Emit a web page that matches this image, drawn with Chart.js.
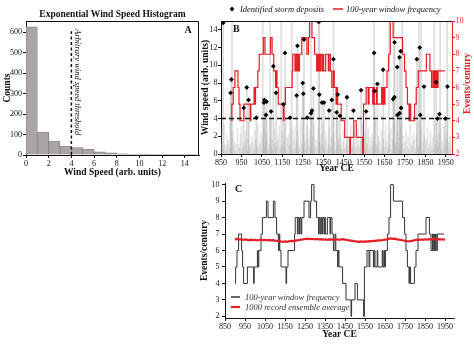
<!DOCTYPE html>
<html>
<head>
<meta charset="utf-8">
<script src="https://cdn.jsdelivr.net/npm/chart.js@4.4.0/dist/chart.umd.min.js"></script>
<style>
  html, body { margin: 0; padding: 0; background: #fff; }
  body { width: 474px; height: 346px; position: relative; overflow: hidden; }
  .panel { position: absolute; }
</style>
</head>
<body>
<div class="panel" style="left:0;top:0;width:205px;height:182px"><canvas id="chartA"></canvas></div>
<div class="panel" style="left:200px;top:0;width:274px;height:178px"><canvas id="chartB"></canvas></div>
<div class="panel" style="left:195px;top:175px;width:279px;height:171px"><canvas id="chartC"></canvas></div>
<script>
/* ==================
    DATOS
================== */

// A: histograma de velocidades
const speedBins = [0, 1, 2, 3, 4, 5, 6, 7, 8, 9, 10, 11, 12, 13, 14];
const speedCounts = [626, 112, 68, 44, 36, 28, 15, 10, 6, 5, 4, 3, 2, 2, 1];
const speedTicks = [0, 2, 4, 6, 8, 10, 12, 14];
const countTicks = [0, 100, 200, 300, 400, 500, 600];
const threshold = 4;

// B y C: ejes
const yearTicks = [850, 950, 1050, 1150, 1250, 1350, 1450, 1550, 1650, 1750, 1850, 1950];
const windTicks = [0, 2, 4, 6, 8, 10, 12, 14];
const eventTicks = [2, 3, 4, 5, 6, 7, 8, 9, 10];

// depositos de tormenta identificados
const stormYears = [861, 897, 901, 961, 976, 985, 1023, 1060, 1062, 1070,
  1073, 1095, 1106, 1119, 1155, 1163, 1188, 1220, 1224, 1250,
  1253, 1256, 1272, 1290, 1295, 1302, 1328, 1331, 1344, 1354,
  1379, 1392, 1400, 1416, 1421, 1432, 1466, 1498, 1535, 1560,
  1599, 1602, 1615, 1643, 1692, 1698, 1699, 1712, 1713, 1723,
  1724, 1729, 1731, 1808, 1822, 1825, 1843, 1903, 1908, 1919,
  1947, 1958];
const stormSpeeds = [14.8, 6.9, 8.4, 5.2, 7.5, 6.1, 4.1, 5.8, 6.1, 4.4,
  5.9, 4.8, 9.9, 6.9, 5.6, 11.4, 4.1, 6.6, 12.2, 8.0,
  6.8, 12.9, 4.1, 4.6, 4.9, 7.4, 14.9, 6.7, 5.8, 5.8,
  4.9, 6.1, 10.7, 4.7, 6.7, 4.3, 6.4, 4.9, 7.2, 4.8,
  11.4, 7.1, 7.9, 9.5, 6.2, 6.4, 12.6, 9.8, 4.4, 10.9,
  4.6, 11.6, 5.2, 10.7, 12.0, 4.4, 7.6, 8.1, 4.0, 4.5,
  4.0, 7.6];

// velocidad anual de fondo (una barra cada 5 anos desde 850)
const bgStartYear = 850;
const bgStep = 5;
const bgSpeeds = [
  1.2, 2.8, 0.6, 3.4, 1.0, 0.4, 2.1, 1.5, 0.8, 3.9, 0.5, 1.8, 2.6, 0.9, 1.3, 0.3, 2.9, 1.1, 0.7, 2.2,
  3.1, 0.6, 1.4, 0.9, 2.5, 1.7, 0.4, 3.6, 1.0, 0.8, 2.0, 1.3, 0.5, 2.7, 1.6, 0.9, 3.3, 0.7, 1.2, 2.4,
  0.6, 1.9, 3.0, 0.8, 1.4, 2.3, 0.5, 1.1, 3.8, 0.9, 1.6, 0.4, 2.8, 1.2, 0.7, 2.1, 1.5, 3.2, 0.6, 1.0,
  2.6, 0.8, 1.3, 3.5, 0.5, 1.8, 2.2, 0.9, 1.1, 2.9, 0.4, 1.7, 3.0, 0.7, 1.4, 2.5, 1.0, 0.6, 3.7, 1.2,
  0.9, 2.3, 1.5, 0.5, 3.1, 1.8, 0.7, 2.7, 1.2, 0.4, 2.0, 3.4, 0.8, 1.6, 0.6, 2.8, 1.3, 0.9, 2.2, 1.0,
  3.3, 0.7, 1.5, 2.4, 0.5, 1.1, 3.0, 0.8, 1.9, 0.6, 2.6, 1.4, 0.4, 3.6, 1.0, 1.7, 0.9, 2.1, 0.5, 1.3,
  2.7, 0.6, 1.2, 0.9, 2.0, 0.4, 1.5, 3.2, 0.7, 1.0, 2.4, 0.5, 1.8, 0.8, 2.9, 1.1, 0.6, 1.4, 3.5, 0.9,
  1.6, 2.5, 0.7, 1.2, 3.0, 0.5, 1.9, 0.9, 2.3, 1.4, 0.6, 3.8, 1.1, 0.8, 2.0, 1.5, 0.4, 2.8, 1.0, 1.7,
  0.8, 3.2, 1.3, 0.6, 2.2, 1.0, 2.9, 0.5, 1.6, 3.4, 0.9, 1.2, 2.5, 0.7, 1.8, 0.4, 3.1, 1.1, 2.0, 0.6,
  1.4, 2.7, 0.8, 1.9, 0.5, 3.3, 1.2, 0.9, 2.4, 1.6, 0.6, 2.1, 3.6, 1.0, 0.7, 1.5, 2.8, 0.4, 1.3, 2.2,
  0.9, 1.7, 3.0, 0.6, 1.2, 2.5, 0.8, 1.9, 0.5, 3.4, 1.1, 1.6, 0.7, 2.3, 1.0, 2.9, 0.6, 1.4, 3.1, 0.8,
  1.8, 2.4, 0.7, 1.3, 2.0, 1.0
];
// anos con viento fuera de escala (lineas hasta arriba)
const offScaleYears = [904, 1054, 1090, 1145, 1196, 1290, 1331, 1400, 1599, 1672, 1697, 1736, 1818, 1829, 1893, 1922, 1956];
const offScaleSpeed = 15;

// frecuencia en ventana de 100 anos (valor desde ese ano hasta el siguiente)
const freqYears = [900, 903, 910, 918, 933, 938, 943, 962, 993, 996,
  1012, 1015, 1019, 1030, 1037, 1057, 1065, 1092, 1100, 1108,
  1117, 1121, 1124, 1130, 1155, 1158, 1165, 1198, 1201, 1212,
  1216, 1222, 1225, 1231, 1234, 1245, 1270, 1278, 1283, 1295,
  1308, 1318, 1321, 1326, 1330, 1334, 1338, 1345, 1348, 1352,
  1362, 1375, 1378, 1385, 1392, 1400, 1404, 1413, 1416, 1420,
  1438, 1455, 1480, 1483, 1500, 1512, 1543, 1547, 1560, 1570,
  1574, 1592, 1596, 1600, 1611, 1614, 1636, 1640, 1645, 1648,
  1652, 1662, 1670, 1678, 1692, 1738, 1748, 1755, 1762, 1770,
  1773, 1778, 1797, 1805, 1815, 1855, 1872, 1880, 1887, 1890,
  1894, 1897, 1903, 1906, 1912, 1945];
const freqValues = [4, 5, 6, 7, 6, 5, 4, 5, 4, 5,
  6, 5, 6, 7, 8, 9, 8, 9, 8, 7,
  6, 7, 6, 5, 4, 5, 6, 7, 8, 7,
  8, 7, 8, 7, 8, 9, 8, 9, 10, 9,
  8, 7, 8, 7, 8, 7, 8, 7, 8, 7,
  8, 7, 8, 7, 6, 7, 6, 5, 6, 5,
  4, 3, 2, 3, 4, 3, 2, 5, 6, 5,
  6, 5, 6, 5, 6, 5, 6, 5, 6, 5,
  6, 7, 8, 10, 9, 8, 7, 6, 5, 4,
  5, 4, 5, 6, 7, 8, 7, 6, 7, 6,
  7, 6, 7, 6, 7, 7];

// promedio del conjunto de 1000 registros (cada 10 anos desde 900)
const ensStartYear = 900;
const ensStep = 10;
const ensValues = [
  6.68, 6.70, 6.66, 6.69, 6.64, 6.67, 6.65, 6.62, 6.66, 6.63,
  6.65, 6.62, 6.64, 6.66, 6.63, 6.65, 6.62, 6.64, 6.61, 6.63,
  6.60, 6.58, 6.60, 6.55, 6.52, 6.55, 6.53, 6.56, 6.58, 6.57,
  6.60, 6.62, 6.64, 6.66, 6.68, 6.70, 6.72, 6.69, 6.71, 6.70,
  6.68, 6.70, 6.67, 6.69, 6.66, 6.68, 6.65, 6.67, 6.66, 6.68,
  6.66, 6.68, 6.65, 6.67, 6.69, 6.66, 6.64, 6.62, 6.60, 6.58,
  6.56, 6.54, 6.52, 6.55, 6.53, 6.55, 6.54, 6.57, 6.56, 6.58,
  6.58, 6.60, 6.62, 6.61, 6.64, 6.66, 6.68, 6.72, 6.74, 6.71,
  6.72, 6.68, 6.66, 6.64, 6.62, 6.58, 6.56, 6.55, 6.58, 6.60,
  6.63, 6.66, 6.64, 6.67, 6.65, 6.68, 6.66, 6.69, 6.67, 6.70,
  6.68, 6.66, 6.69, 6.67, 6.68, 6.66
];

/* ==================
    ESTILO GENERAL
================== */

const SERIF = "'Liberation Serif', 'Times New Roman', serif";
const RED = '#e41e26';
Chart.defaults.font.family = SERIF;
Chart.defaults.font.size = 8;
Chart.defaults.color = '#111';
Chart.defaults.animation = false;

const fixTicks = list => scale => { scale.ticks = list.map(v => ({ value: v })); };
const plainLabel = v => String(v);
const axisTitle = (text, pad, color) => ({
    display: true, text: text, color: color || '#111',
    font: { size: 9.5, weight: 'bold' }, padding: pad
});

/* ==================
    PANEL A
================== */

new Chart(document.getElementById('chartA'), {
    type: 'bar',
    data: {
        datasets: [{
            type: 'line',
            data: [{ x: threshold, y: 0 }, { x: threshold, y: 605 }],
            borderColor: '#111',
            borderWidth: 1.5,
            borderDash: [3, 2.5],
            pointRadius: 0,
            order: 0
        }, {
            data: speedBins.map((b, i) => ({ x: b + 0.5, y: speedCounts[i] })),
            backgroundColor: '#aaa5a4',
            borderColor: '#86817f',
            borderWidth: 0.8,
            barPercentage: 1,
            categoryPercentage: 1,
            order: 1
        }]
    },
    options: {
        responsive: true,
        maintainAspectRatio: false,
        layout: { padding: { top: 21, right: 6, left: 0, bottom: 0 } },
        plugins: { legend: { display: false }, tooltip: { enabled: false } },
        scales: {
            x: {
                type: 'linear', min: 0, max: 15.25, offset: false,
                afterBuildTicks: fixTicks(speedTicks),
                afterFit: s => { s.height = 27; },
                grid: { drawOnChartArea: false, offset: false, tickLength: 3, color: '#111' },
                border: { color: '#111' },
                ticks: { padding: 1, maxRotation: 0, autoSkip: false, callback: plainLabel },
                title: axisTitle('Wind Speed (arb. units)', { top: 0, bottom: 3.5 })
            },
            y: {
                min: 0, max: 655,
                afterBuildTicks: fixTicks(countTicks),
                afterFit: s => { s.width = 26; },
                grid: { drawOnChartArea: false, tickLength: 3, color: '#111' },
                border: { color: '#111' },
                ticks: { padding: 1, callback: plainLabel },
                title: axisTitle('Counts', { top: 2.3, bottom: 0 })
            }
        }
    },
    plugins: [{
        id: 'decorA',
        afterDraw(chart) {
            const { ctx, chartArea: a, scales } = chart;
            ctx.save();
            ctx.strokeStyle = '#111';
            ctx.lineWidth = 1;
            ctx.beginPath();
            ctx.moveTo(a.left, a.top + 0.5);
            ctx.lineTo(a.right - 0.5, a.top + 0.5);
            ctx.lineTo(a.right - 0.5, a.bottom);
            ctx.stroke();
            ctx.fillStyle = '#111';
            ctx.textBaseline = 'middle';
            ctx.textAlign = 'center';
            ctx.font = 'bold 9.5px ' + SERIF;
            ctx.fillText('Exponential Wind Speed Histogram', (a.left + a.right) / 2, 14.5);
            ctx.font = 'bold 10px ' + SERIF;
            ctx.fillText('A', a.right - 11, a.top + 9);
            // texto del umbral, girado
            ctx.font = 'italic 8.5px ' + SERIF;
            ctx.translate(scales.x.getPixelForValue(threshold) + 5.5, a.top + 8);
            ctx.rotate(Math.PI / 2);
            ctx.textAlign = 'left';
            ctx.fillText('Arbitrary wind speed threshold', 0, 0);
            ctx.restore();
        }
    }]
});

/* ==================
    PANEL B
================== */

const stickStyle = { barThickness: 1, grouped: false, order: 5 };

new Chart(document.getElementById('chartB'), {
    type: 'bar',
    data: {
        datasets: [{
            ...stickStyle,
            data: bgSpeeds.map((v, i) => ({ x: bgStartYear + i * bgStep, y: v })),
            backgroundColor: 'rgba(165,165,165,0.3)'
        }, {
            ...stickStyle,
            data: offScaleYears.map(yr => ({ x: yr, y: offScaleSpeed })),
            backgroundColor: 'rgba(180,180,180,0.45)'
        }, {
            ...stickStyle,
            data: stormYears.map((yr, i) => ({ x: yr, y: stormSpeeds[i] })),
            backgroundColor: 'rgba(175,175,175,0.45)'
        }, {
            type: 'line',
            yAxisID: 'y2',
            stepped: true,
            data: freqYears.map((yr, i) => ({ x: yr, y: freqValues[i] })),
            borderColor: RED,
            borderWidth: 1.2,
            pointRadius: 0,
            order: 2
        }, {
            type: 'line',
            data: [{ x: 850, y: threshold }, { x: 1980, y: threshold }],
            borderColor: '#111',
            borderWidth: 1.6,
            borderDash: [5, 3],
            pointRadius: 0,
            order: 1
        }, {
            type: 'scatter',
            data: stormYears.map((yr, i) => ({ x: yr, y: stormSpeeds[i] })),
            pointStyle: 'rectRot',
            pointRadius: 2.4,
            backgroundColor: '#000',
            borderWidth: 0,
            order: 0
        }]
    },
    options: {
        responsive: true,
        maintainAspectRatio: false,
        layout: { padding: { top: 21, right: 0, left: 0, bottom: 0 } },
        plugins: { legend: { display: false }, tooltip: { enabled: false } },
        scales: {
            x: {
                type: 'linear', min: 850, max: 1980, offset: false,
                afterBuildTicks: fixTicks(yearTicks),
                afterFit: s => { s.height = 24; },
                grid: { drawOnChartArea: false, offset: false, tickLength: 3, color: '#111' },
                border: { color: '#111' },
                ticks: { padding: 1, maxRotation: 0, minRotation: 0, autoSkip: false, callback: plainLabel },
                title: axisTitle('Year CE', { top: 0, bottom: 3.3 })
            },
            y: {
                min: 0, max: 15,
                afterBuildTicks: fixTicks(windTicks),
                afterFit: s => { s.width = 21; },
                grid: { drawOnChartArea: false, tickLength: 3, color: '#111' },
                border: { color: '#111' },
                ticks: { padding: 0.5, callback: plainLabel },
                title: axisTitle('Wind speed (arb. units)', { top: 0, bottom: 0 })
            },
            y2: {
                position: 'right', min: 2, max: 10,
                afterBuildTicks: fixTicks(eventTicks),
                afterFit: s => { s.width = 22; },
                grid: { drawOnChartArea: false, tickLength: 3, color: RED },
                border: { color: RED },
                ticks: { padding: 0.5, color: RED, callback: plainLabel }
            }
        }
    },
    plugins: [{
        id: 'decorB',
        afterDraw(chart) {
            const { ctx, chartArea: a } = chart;
            ctx.save();
            ctx.strokeStyle = '#111';
            ctx.lineWidth = 1;
            ctx.beginPath();
            ctx.moveTo(a.left, a.top + 0.5);
            ctx.lineTo(a.right, a.top + 0.5);
            ctx.stroke();
            ctx.fillStyle = '#111';
            ctx.textBaseline = 'middle';
            ctx.font = 'bold 10px ' + SERIF;
            ctx.fillText('B', a.left + 12, a.top + 8.5);
            // leyenda
            ctx.font = 'italic 8.5px ' + SERIF;
            ctx.beginPath();
            ctx.moveTo(32, 6.5); ctx.lineTo(34.5, 9); ctx.lineTo(32, 11.5); ctx.lineTo(29.5, 9);
            ctx.closePath();
            ctx.fill();
            ctx.fillText('Identified storm deposits', 40, 9.5);
            ctx.strokeStyle = RED;
            ctx.lineWidth = 1.5;
            ctx.beginPath();
            ctx.moveTo(133, 9); ctx.lineTo(143, 9);
            ctx.stroke();
            ctx.fillText('100-year window frequency', 146, 9.5);
            // titulo eje derecho
            ctx.translate(a.right + 16, (a.top + a.bottom) / 2 - 4);
            ctx.rotate(-Math.PI / 2);
            ctx.textAlign = 'center';
            ctx.fillStyle = RED;
            ctx.font = 'bold 9.5px ' + SERIF;
            ctx.fillText('Events/century', 0, 0);
            ctx.restore();
        }
    }]
});

/* ==================
    PANEL C
================== */

new Chart(document.getElementById('chartC'), {
    type: 'line',
    data: {
        datasets: [{
            stepped: true,
            data: freqYears.map((yr, i) => ({ x: yr, y: freqValues[i] })),
            borderColor: '#333',
            borderWidth: 1,
            pointRadius: 0,
            order: 1
        }, {
            data: ensValues.map((v, i) => ({ x: ensStartYear + i * ensStep, y: v })),
            borderColor: RED,
            borderWidth: 2.2,
            pointRadius: 0,
            order: 0
        }]
    },
    options: {
        responsive: true,
        maintainAspectRatio: false,
        layout: { padding: { top: 8, right: 20, left: 0, bottom: 0 } },
        plugins: { legend: { display: false }, tooltip: { enabled: false } },
        scales: {
            x: {
                type: 'linear', min: 850, max: 1995,
                afterBuildTicks: fixTicks(yearTicks),
                afterFit: s => { s.height = 28; },
                grid: { drawOnChartArea: false, tickLength: 3, color: '#111' },
                border: { color: '#111' },
                ticks: { padding: 1, maxRotation: 0, minRotation: 0, autoSkip: false, callback: plainLabel },
                title: axisTitle('Year CE', { top: 0, bottom: 5.3 })
            },
            y: {
                min: 1.9, max: 10.1,
                afterBuildTicks: fixTicks(eventTicks),
                afterFit: s => { s.width = 30; },
                grid: { drawOnChartArea: false, tickLength: 3, color: '#111' },
                border: { color: '#111' },
                ticks: { padding: 2.5, callback: plainLabel },
                title: axisTitle('Events/century', { top: 4.3, bottom: 0 })
            }
        }
    },
    plugins: [{
        id: 'decorC',
        afterDraw(chart) {
            const { ctx, chartArea: a } = chart;
            ctx.save();
            ctx.fillStyle = '#111';
            ctx.textBaseline = 'middle';
            ctx.font = 'bold 10px ' + SERIF;
            ctx.fillText('C', a.left + 10, a.top + 6);
            // leyenda
            ctx.font = 'italic 8.5px ' + SERIF;
            ctx.fillStyle = '#333';
            ctx.lineWidth = 1.5;
            ctx.strokeStyle = '#333';
            ctx.beginPath(); ctx.moveTo(36, 122); ctx.lineTo(45, 122); ctx.stroke();
            ctx.fillText('100-year window frequency', 50, 122.5);
            ctx.lineWidth = 2.2;
            ctx.strokeStyle = RED;
            ctx.beginPath(); ctx.moveTo(36, 132); ctx.lineTo(45, 132); ctx.stroke();
            ctx.fillText('1000 record ensemble average', 50, 132.5);
            ctx.restore();
        }
    }]
});
</script>
</body>
</html>
